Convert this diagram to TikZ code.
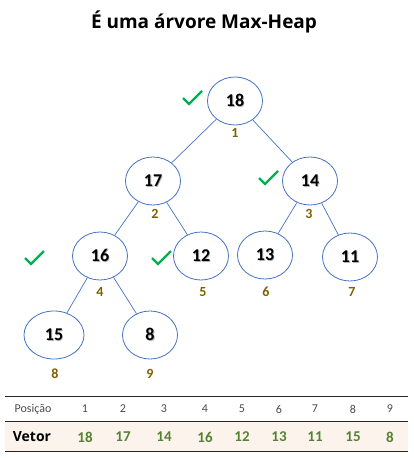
\documentclass[tikz,border=0pt]{standalone}
\usepackage{fontspec}
\setmainfont{Carlito}
\newfontfamily\titlefont{Open Sans}
\usetikzlibrary{shapes.geometric}
\definecolor{nodeblue}{HTML}{4472C4}
\definecolor{idxgold}{HTML}{7F6000}
\definecolor{valgreen}{HTML}{548235}
\definecolor{checkgreen}{HTML}{00B050}
\definecolor{rowbg}{HTML}{FCF3EC}
\definecolor{rulegray}{HTML}{262626}
\newcommand\shtext[1]{\makebox[0pt][l]{\raisebox{-0.9pt}{\hspace{0.9pt}\textcolor{black!30}{#1}}}#1}
\tikzset{
  heapnode/.style={ellipse,draw=nodeblue,line width=0.8pt,minimum width=55pt,minimum height=48pt,inner sep=0pt,font=\fontsize{18}{20}\selectfont\bfseries},
  treeedge/.style={draw=nodeblue,line width=0.7pt},
  idx/.style={font=\fontsize{14}{16}\selectfont\bfseries,text=idxgold,inner sep=0pt},
  checkmark/.pic={\draw[checkgreen,line width=2.2pt] (-9,-1) -- (-3,5) -- (10,-8);},
  poscell/.style={font=\fontsize{12}{14}\selectfont,text=black!70,inner sep=0pt},
  valcell/.style={font=\fontsize{15}{17}\selectfont\bfseries,text=valgreen,inner sep=0pt},
  tablerule/.style={draw=rulegray,line width=1pt}
}
\begin{document}
\begin{tikzpicture}[x=1pt,y=-1pt]
\useasboundingbox (0,0) rectangle (414,458);
\node[font=\titlefont\fontsize{19}{22}\selectfont\bfseries] (title) at (204,22) {É uma árvore Max-Heap};

\node[heapnode] (n1) at (235,101) {\shtext{18}};
\node[heapnode] (n2) at (153,181) {\shtext{17}};
\node[heapnode] (n3) at (310,181) {\shtext{14}};
\node[heapnode] (n4) at (100,256) {\shtext{16}};
\node[heapnode] (n5) at (201,256) {\shtext{12}};
\node[heapnode] (n6) at (265,255) {\shtext{13}};
\node[heapnode] (n7) at (350,257) {\shtext{11}};
\node[heapnode,minimum width=60pt] (n8) at (54,335) {\shtext{15}};
\node[heapnode] (n9) at (150,335) {\shtext{8}};

\draw[treeedge] (n1) -- (n2);
\draw[treeedge] (n1) -- (n3);
\draw[treeedge] (n2) -- (n4);
\draw[treeedge] (n2) -- (n5);
\draw[treeedge] (n3) -- (n6);
\draw[treeedge] (n3) -- (n7);
\draw[treeedge] (n4) -- (n8);
\draw[treeedge] (n4) -- (n9);

\node[idx] (i1) at (235,133) {1};
\node[idx] (i2) at (155,214) {2};
\node[idx] (i3) at (309,214) {3};
\node[idx] (i4) at (100,292) {4};
\node[idx] (i5) at (203,292) {5};
\node[idx] (i6) at (266,292) {6};
\node[idx] (i7) at (352,292) {7};
\node[idx] (i8) at (55,374) {8};
\node[idx] (i9) at (150,374) {9};

\pic at (192,99) {checkmark};
\pic at (268,179) {checkmark};
\pic at (34,259) {checkmark};
\pic at (161,259) {checkmark};

\fill[rowbg] (5,422) rectangle (408,451);
\draw[tablerule] (5,396) -- (408,396);
\draw[tablerule] (5,421.5) -- (408,421.5);
\draw[tablerule] (5,451.5) -- (408,451.5);

\node[poscell] (ph) at (33,409) {Posição};
\node[font=\titlefont\fontsize{14}{16}\selectfont\bfseries,inner sep=0pt] (vh) at (32,437) {Vetor};
\foreach \i/\x/\v in {1/85/18,2/123/17,3/164/14,4/205/16,5/242/12,6/279/13,7/315/11,8/353/15,9/390/8}{
  \node[poscell] (p\i) at (\x,409) {\i};
  \node[valcell] (v\i) at (\x,437) {\v};
}
\end{tikzpicture}
\end{document}
